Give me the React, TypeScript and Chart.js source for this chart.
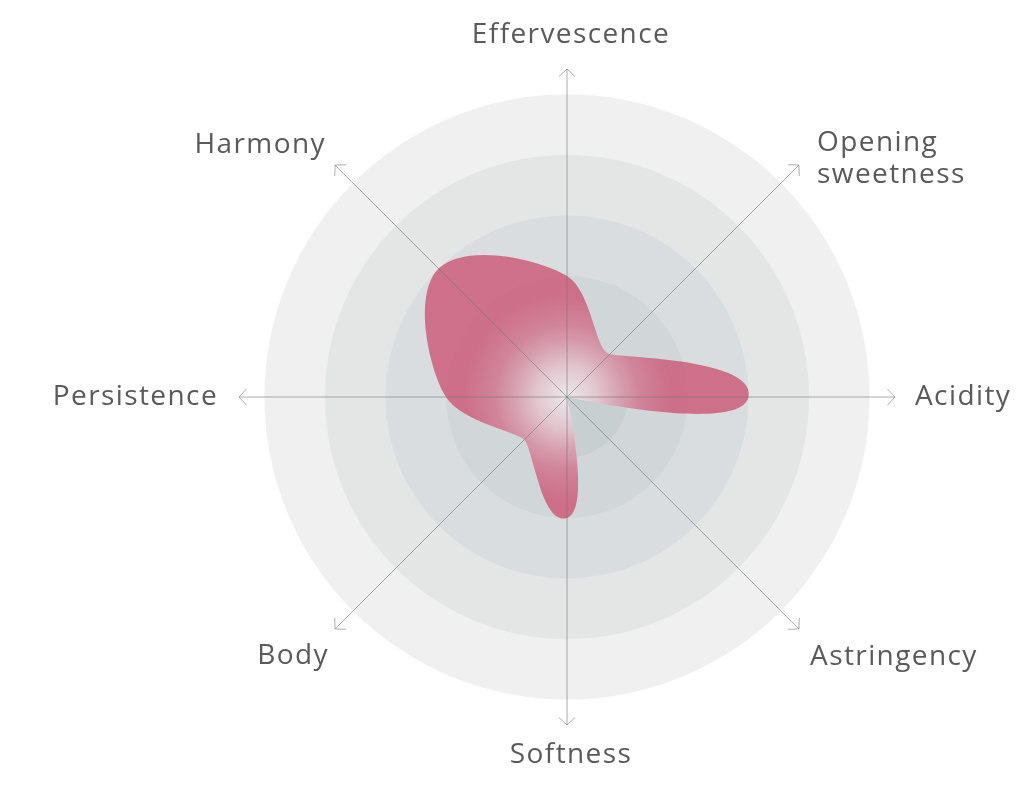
import React, { useEffect, useRef } from 'react';
import { Chart, registerables } from 'chart.js';

Chart.register(...registerables);

// ---- data ----
const categories: (string | string[])[] = [
  'Effervescence',
  ['Opening', 'sweetness'],
  'Acidity',
  'Astringency',
  'Softness',
  'Body',
  'Persistence',
  'Harmony',
];
const scores = [2, 1, 3, 0, 2, 1, 2, 3];
const ringLevels = [5, 4, 3, 2, 1];
const scaleMax = 5.42;

const RING_FILLS = ['#f0f0f0', '#e4e5e5', '#dadddf', '#d1d6d8', '#c8cfd0'];
const AXIS_COLOR = 'rgba(118,118,118,0.6)';

// Smooth closed curve that follows the angular direction (polar Hermite),
// applied as bezier control points of Chart.js's own line element.
function applyPolarSpline(chart: any) {
  const meta = chart.getDatasetMeta(0);
  const line = meta && meta.dataset;
  if (!line) return;
  const s = chart.scales.r;
  line.updateControlPoints(chart.chartArea);
  const pts = meta.data;
  const n = pts.length;
  const dTheta = (Math.PI * 2) / n;
  const kr = 0.8;
  const kt = 0.8;
  const radii = pts.map((p: any) => Math.hypot(p.x - s.xCenter, p.y - s.yCenter));
  for (let i = 0; i < n; i++) {
    const p = pts[i];
    const r = radii[i];
    if (r < 0.5) {
      p.cp1x = p.x;
      p.cp1y = p.y;
      p.cp2x = p.x;
      p.cp2y = p.y;
      continue;
    }
    const th = s.getIndexAngle(i);
    const erx = Math.sin(th);
    const ery = -Math.cos(th);
    const etx = Math.cos(th);
    const ety = Math.sin(th);
    const dr = ((radii[(i + 1) % n] - radii[(i - 1 + n) % n]) / 2) * kr;
    const dt = r * dTheta * kt;
    const ax = (dr * erx + dt * etx) / 3;
    const ay = (dr * ery + dt * ety) / 3;
    p.cp1x = p.x - ax;
    p.cp1y = p.y - ay;
    p.cp2x = p.x + ax;
    p.cp2y = p.y + ay;
  }
  line._path = undefined;
}

const radarDecor = {
  id: 'radarDecor',
  beforeDatasetsDraw(chart: any) {
    const s = chart.scales.r;
    const ctx = chart.ctx as CanvasRenderingContext2D;
    ctx.save();
    ringLevels.forEach((v, k) => {
      ctx.beginPath();
      ctx.arc(s.xCenter, s.yCenter, s.getDistanceFromCenterForValue(v), 0, Math.PI * 2);
      ctx.fillStyle = RING_FILLS[k];
      ctx.fill();
    });
    ctx.restore();
    applyPolarSpline(chart);
  },
  afterDraw(chart: any) {
    const s = chart.scales.r;
    const ctx = chart.ctx as CanvasRenderingContext2D;
    const labels = chart.data.labels as (string | string[])[];
    const n = labels.length;
    const R = s.drawingArea;
    ctx.save();
    // arrowheads at the end of each axis
    ctx.strokeStyle = AXIS_COLOR;
    ctx.lineWidth = 1;
    for (let i = 0; i < n; i++) {
      const p = s.getPointPosition(i, R);
      const ux = (p.x - s.xCenter) / R;
      const uy = (p.y - s.yCenter) / R;
      const nx = -uy;
      const ny = ux;
      ctx.beginPath();
      ctx.moveTo(p.x - 7.5 * ux + 8 * nx, p.y - 7.5 * uy + 8 * ny);
      ctx.lineTo(p.x, p.y);
      ctx.lineTo(p.x - 7.5 * ux - 8 * nx, p.y - 7.5 * uy - 8 * ny);
      ctx.stroke();
    }
    // axis labels
    ctx.font = '400 28px "Open Sans"';
    ctx.fillStyle = '#5a5a5a';
    (ctx as any).letterSpacing = '1.4px';
    ctx.textBaseline = 'alphabetic';
    const lh = 32.5;
    for (let i = 0; i < n; i++) {
      const a = s.getPointPosition(i, R + 20);
      const deg = Math.round((s.getIndexAngle(i) * 180) / Math.PI) % 360;
      const lines = Array.isArray(labels[i]) ? (labels[i] as string[]) : [labels[i] as string];
      let x = a.x;
      let y = a.y;
      let align: CanvasTextAlign = 'left';
      if (deg === 0) {
        align = 'center';
        x += 4;
        y = a.y - 6 - (lines.length - 1) * lh;
      } else if (deg === 180) {
        align = 'center';
        x += 4;
        y = a.y + 18;
      } else if (deg === 90) {
        align = 'left';
        y = a.y + 8 - ((lines.length - 1) * lh) / 2;
      } else if (deg === 270) {
        align = 'right';
        x -= 1;
        y = a.y + 8 - ((lines.length - 1) * lh) / 2;
      } else if (deg < 90) {
        align = 'left';
        x += 4;
        y = a.y;
      } else if (deg < 180) {
        align = 'left';
        x -= 3;
        y = a.y + 22;
      } else if (deg < 270) {
        align = 'right';
        x += 8;
        y = a.y + 21;
      } else {
        align = 'right';
        x += 5;
        y = a.y + 2;
      }
      ctx.textAlign = align;
      lines.forEach((t, k) => ctx.fillText(t, x, y + k * lh));
    }
    ctx.restore();
  },
};

export default function App() {
  const canvasRef = useRef<HTMLCanvasElement | null>(null);

  useEffect(() => {
    if (!canvasRef.current) return;
    const chart = new Chart(canvasRef.current, {
      type: 'radar',
      data: {
        labels: categories as any,
        datasets: [
          {
            data: scores,
            fill: true,
            borderWidth: 0,
            borderColor: 'rgba(0,0,0,0)',
            pointRadius: 0,
            pointHoverRadius: 0,
            tension: 0.5,
            backgroundColor: (c: any) => {
              const ch = c.chart;
              const s = ch.scales && ch.scales.r;
              if (!s || !ch.chartArea) return 'rgba(204,80,112,0.78)';
              const g = ch.ctx.createRadialGradient(
                s.xCenter,
                s.yCenter,
                0,
                s.xCenter,
                s.yCenter,
                s.getDistanceFromCenterForValue(1.7)
              );
              g.addColorStop(0, 'rgba(238,235,236,0.95)');
              g.addColorStop(0.3, 'rgba(229,196,206,0.88)');
              g.addColorStop(0.7, 'rgba(208,112,139,0.8)');
              g.addColorStop(1, 'rgba(204,82,114,0.78)');
              return g;
            },
          },
        ],
      },
      options: {
        animation: false,
        responsive: true,
        maintainAspectRatio: false,
        layout: { padding: { left: 239, top: 69, right: 129, bottom: 64 } },
        plugins: {
          legend: { display: false },
          tooltip: { enabled: false },
        },
        scales: {
          r: {
            min: 0,
            max: scaleMax,
            ticks: { display: false, stepSize: 1 },
            grid: { display: false, z: 1 },
            angleLines: { display: true, color: AXIS_COLOR, lineWidth: 1 },
            pointLabels: { display: false },
          },
        },
      },
      plugins: [radarDecor],
    } as any);
    return () => chart.destroy();
  }, []);

  return (
    <div style={{ position: 'absolute', left: 0, top: 0, width: 1024, height: 789, background: '#ffffff' }}>
      <canvas ref={canvasRef} />
    </div>
  );
}
